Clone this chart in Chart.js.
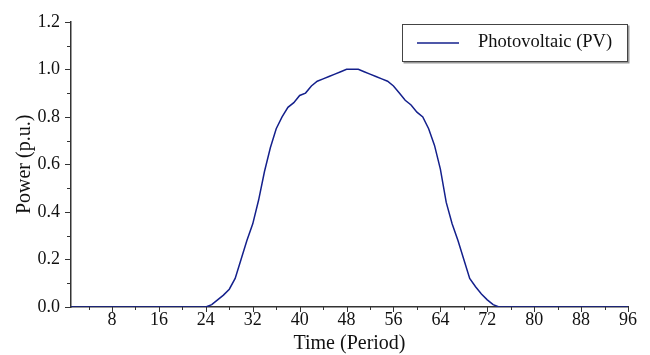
<!DOCTYPE html>
<html>
<head>
<meta charset="utf-8">
<script src="https://cdn.jsdelivr.net/npm/chart.js@4.4.0/dist/chart.umd.min.js"></script>
<style>
    html, body { margin: 0; padding: 0; background: #fff; }
    #wrap { width: 650px; height: 355px; position: relative; }
</style>
</head>
<body>
<div id="wrap"><canvas id="pvChart"></canvas></div>
<script>
// ---------------- Data ----------------
const seriesLabel = "Photovoltaic (PV)";
const periods = Array.from({ length: 96 }, (_, i) => i + 1);
const pvPower = [
    0, 0, 0, 0, 0, 0, 0, 0, 0, 0, 0, 0,
    0, 0, 0, 0, 0, 0, 0, 0, 0, 0, 0, 0,
    0.01, 0.03, 0.05, 0.075, 0.12, 0.20, 0.28, 0.35, 0.45, 0.57, 0.67, 0.75,
    0.80, 0.84, 0.86, 0.89, 0.90, 0.93, 0.95, 0.96, 0.97, 0.98, 0.99, 1.00,
    1.00, 1.00, 0.99, 0.98, 0.97, 0.96, 0.95, 0.93, 0.90, 0.87, 0.85, 0.82,
    0.80, 0.75, 0.68, 0.58, 0.44, 0.35, 0.28, 0.20, 0.12, 0.085, 0.055, 0.03,
    0.01, 0, 0, 0, 0, 0, 0, 0, 0, 0, 0, 0,
    0, 0, 0, 0, 0, 0, 0, 0, 0, 0, 0, 0
];
const xTicks = [8, 16, 24, 32, 40, 48, 56, 64, 72, 80, 88, 96];
const xMinorTicks = [4, 12, 20, 28, 36, 44, 52, 60, 68, 76, 84, 92];
const yTicks = [0, 0.2, 0.4, 0.6, 0.8, 1.0, 1.2];
const yMinorTicks = [0.1, 0.3, 0.5, 0.7, 0.9, 1.1];

const serif = "'Liberation Serif', 'Times New Roman', serif";
const axisColor = "#333";
const lineColor = "#14208c";

// ---------------- Tick marks + legend box ----------------
const tickMarks = {
    id: "tickMarks",
    afterDraw(chart) {
        const { ctx, scales: { x, y } } = chart;
        ctx.save();
        ctx.strokeStyle = axisColor;
        ctx.lineWidth = 1;
        const xl = x.getPixelForValue(1);
        const yb = y.getPixelForValue(0);
        const mark = (x1, y1, x2, y2) => {
            ctx.beginPath(); ctx.moveTo(x1, y1); ctx.lineTo(x2, y2); ctx.stroke();
        };
        yTicks.forEach(v => { const p = Math.round(y.getPixelForValue(v)) + 0.5; mark(xl - 6, p, xl, p); });
        yMinorTicks.forEach(v => { const p = Math.round(y.getPixelForValue(v)) + 0.5; mark(xl - 4, p, xl, p); });
        xTicks.forEach(v => { const p = Math.round(x.getPixelForValue(v)) + 0.5; mark(p, yb, p, yb + 5); });
        xMinorTicks.forEach(v => { const p = Math.round(x.getPixelForValue(v)) + 0.5; mark(p, yb, p, yb + 3); });

        // legend
        const bx = 402, by = 24, bw = 226, bh = 38;
        ctx.fillStyle = "#999";
        ctx.fillRect(bx + 1.5, by + 1.5, bw, bh);
        ctx.fillStyle = "#fff";
        ctx.fillRect(bx, by, bw, bh);
        ctx.strokeStyle = "#444";
        ctx.strokeRect(bx + 0.5, by + 0.5, bw - 1, bh - 1);
        ctx.strokeStyle = lineColor;
        ctx.lineWidth = 1.5;
        mark(417, by + 19, 459, by + 19);
        ctx.fillStyle = "#111";
        ctx.font = "18.5px " + serif;
        ctx.textBaseline = "middle";
        ctx.fillText(chart.data.datasets[0].label, 478, by + 18.5);
        ctx.restore();
    }
};

// ---------------- Chart ----------------
new Chart(document.getElementById("pvChart"), {
    type: "line",
    data: {
        labels: periods,
        datasets: [{
            label: seriesLabel,
            data: pvPower,
            borderColor: lineColor,
            borderWidth: 1.5,
            pointRadius: 0,
            tension: 0,
            fill: false
        }]
    },
    options: {
        responsive: true,
        maintainAspectRatio: false,
        animation: false,
        layout: { padding: { left: 0, right: 22, top: 17, bottom: 0 } },
        plugins: { legend: { display: false }, tooltip: { enabled: false } },
        scales: {
            x: {
                type: "linear",
                min: 1, max: 96,
                afterBuildTicks: s => { s.ticks = xTicks.map(v => ({ value: v })); },
                afterFit: s => { s.height = 48; },
                grid: { display: false, drawTicks: false },
                border: { display: true, color: axisColor, width: 1.5 },
                ticks: { color: "#111", padding: 2, maxRotation: 0, font: { family: serif, size: 18 } },
                title: { display: true, text: "Time (Period)", color: "#111",
                         padding: { top: 0, bottom: 0 }, font: { family: serif, size: 20, lineHeight: 1.1 } }
            },
            y: {
                min: 0, max: 1.2,
                afterBuildTicks: s => { s.ticks = yTicks.map(v => ({ value: v })); },
                afterFit: s => { s.width = 71; },
                grid: { display: false, drawTicks: false },
                border: { display: true, color: axisColor, width: 1.5 },
                ticks: { color: "#111", padding: 11, font: { family: serif, size: 18 },
                         callback: v => v.toFixed(1) },
                title: { display: true, text: "Power (p.u.)", color: "#111",
                         padding: { top: 13, bottom: 0 }, font: { family: serif, size: 20, lineHeight: 1.2 } }
            }
        }
    },
    plugins: [tickMarks]
});
</script>
</body>
</html>
